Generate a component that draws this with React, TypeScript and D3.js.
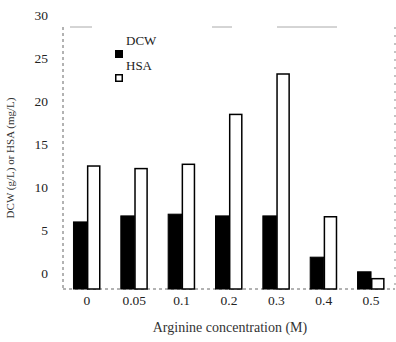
import React, { useEffect, useRef } from "react";
import * as d3 from "d3";

const concentrations = ["0", "0.05", "0.1", "0.2", "0.3", "0.4", "0.5"];
const dcwValues = [7.8, 8.5, 8.7, 8.5, 8.5, 3.7, 2.0];
const hsaValues = [14.3, 14.0, 14.5, 20.3, 25.0, 8.4, 1.2];
const yTicks = [0, 5, 10, 15, 20, 25, 30];
const seriesNames = ["DCW", "HSA"];

const width = 396;
const height = 342;
const left = 64;
const right = 394;
const top = 27;
const bottom = 289;
const font = "'Liberation Serif', 'DejaVu Serif', serif";

export default function App() {
  const yAxisRef = useRef<SVGGElement>(null);
  const xAxisRef = useRef<SVGGElement>(null);

  const x = d3.scaleBand().domain(concentrations).range([left, right]).paddingInner(0.43).paddingOuter(0.2);
  const sub = d3.scaleBand().domain(seriesNames).range([0, x.bandwidth()]);
  const y = d3.scaleLinear().domain([0, 30]).range([bottom, bottom - 30 * 8.6]);

  useEffect(() => {
    const ya = d3.select(yAxisRef.current!);
    ya.call(d3.axisLeft(y).tickValues(yTicks).tickSize(0).tickPadding(15) as any);
    ya.select(".domain").remove();
    // labels sit a bit above their gridline in the scan
    ya.selectAll("text")
      .attr("transform", "translate(0,-16)")
      .style("font-family", font)
      .style("font-size", "13.5px")
      .attr("fill", "#222");

    const xa = d3.select(xAxisRef.current!);
    xa.call(d3.axisBottom(x).tickSize(0).tickPadding(6) as any);
    xa.select(".domain").remove();
    xa.selectAll("text")
      .style("font-family", font)
      .style("font-size", "13.5px")
      .attr("fill", "#222");
  }, []);

  return (
    <svg width={width} height={height} style={{ position: "absolute", left: 0, top: 0, background: "#fff" }}>
      {/* dashed frame, faint like the scan */}
      <g stroke="#666" strokeWidth={1} fill="none" strokeDasharray="3,3">
        <line x1={left - 1} x2={left - 1} y1={top} y2={bottom} />
        <line x1={left - 1} x2={right + 1} y1={bottom} y2={bottom} />
        <line x1={left + 6} x2={right - 40} y1={top} y2={top} stroke="#aaa" strokeDasharray="22,120,20,45,60,200" />
        <line x1={right + 1} x2={right + 1} y1={top} y2={bottom} stroke="#888" strokeDasharray="2,6" />
      </g>

      {concentrations.map((c, i) => (
        <g key={c}>
          <rect
            x={x(c)! + sub("DCW")!}
            y={y(dcwValues[i])}
            width={sub.bandwidth()}
            height={y(0) - y(dcwValues[i])}
            fill="#000"
            stroke="#000"
            strokeWidth={1}
          />
          <rect
            x={x(c)! + sub("HSA")! + 0.7}
            y={y(hsaValues[i])}
            width={sub.bandwidth() - 1.4}
            height={y(0) - y(hsaValues[i])}
            fill="#fff"
            stroke="#000"
            strokeWidth={1.5}
          />
        </g>
      ))}

      <g ref={yAxisRef} transform={`translate(${left - 1},0)`} />
      <g ref={xAxisRef} transform={`translate(0,${bottom})`} />

      {/* legend */}
      <g fontFamily={font} fontSize={13} fill="#222">
        <text x={126} y={45}>DCW</text>
        <rect x={115} y={50} width={8} height={8} fill="#000" />
        <text x={126} y={70}>HSA</text>
        <rect x={115.75} y={74.75} width={6.5} height={6.5} fill="#fff" stroke="#000" strokeWidth={1.5} />
      </g>

      <text
        transform={`translate(14,158) rotate(-90)`}
        textAnchor="middle"
        fontFamily={font}
        fontSize={11}
        fill="#333"
      >
        DCW (g/L) or HSA (mg/L)
      </text>
      <text x={230} y={332} textAnchor="middle" fontFamily={font} fontSize={14} fill="#333">
        Arginine concentration (M)
      </text>
    </svg>
  );
}
